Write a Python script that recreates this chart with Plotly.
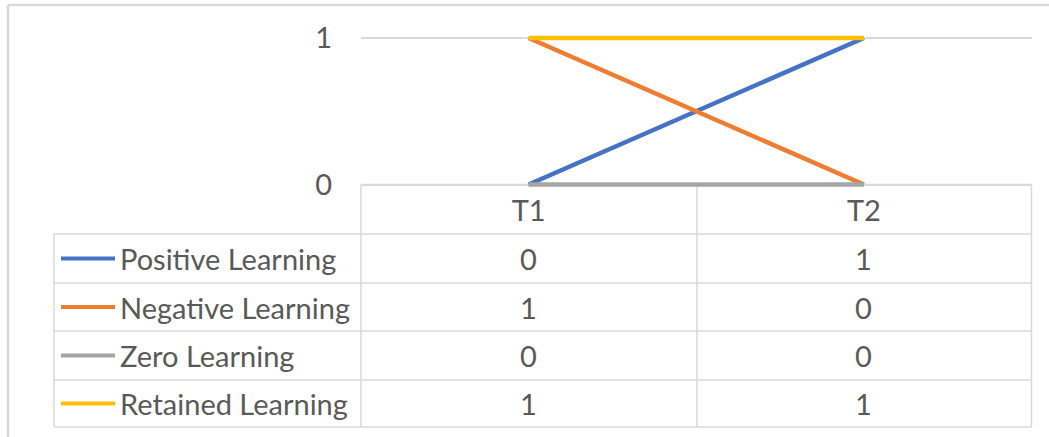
import plotly.graph_objects as go

# ---- data ----
categories = ["T1", "T2"]
series_names = ["Positive Learning", "Negative Learning", "Zero Learning", "Retained Learning"]
positive = [0, 1]
negative = [1, 0]
zero = [0, 0]
retained = [1, 1]
y_ticks = [0, 1]

series_values = [positive, negative, zero, retained]
colors = ["#4472C4", "#ED7D31", "#A5A5A5", "#FFC000"]

W, H = 1049, 437
FONT = "Lato"
TXT = "#595959"
GRID = "#D9D9D9"
FS = 29

def px(x):
    return x / W

def py(y):
    return 1 - y / H

fig = go.Figure()
for name, vals, col in zip(series_names, series_values, colors):
    fig.add_trace(go.Scatter(
        x=categories, y=vals, name=name, mode="lines",
        line=dict(color=col, width=4.5), cliponaxis=False, showlegend=False,
    ))

# table geometry (pixels)
left_x, mid_x, col2_x, right_x = 54, 361, 697, 1031.5
top_y = 184.5
y1_px = 38
row_edges = [234, 283, 331, 380, 427]

# small padding around the value range so the lines at 0 and 1 are not clipped
pad_px = 4
unit = (top_y - y1_px)
pad = pad_px / unit

shapes = []
def hline(x0, x1, y, color=GRID, width=1.5):
    shapes.append(dict(type="line", xref="paper", yref="paper",
                       x0=px(x0), x1=px(x1), y0=py(y), y1=py(y),
                       line=dict(color=color, width=width), layer="below"))

def vline(x, y0, y1, color=GRID, width=1.5):
    shapes.append(dict(type="line", xref="paper", yref="paper",
                       x0=px(x), x1=px(x), y0=py(y0), y1=py(y1),
                       line=dict(color=color, width=width), layer="below"))

# outer chart border (top & left visible)
hline(8, W, 5, width=2.5)
vline(8, 5, H, width=2.5)

# table top edge (under the value columns) and row lines
hline(mid_x, right_x, top_y)
for ye in row_edges:
    hline(left_x, right_x, ye)
vline(left_x, row_edges[0], row_edges[-1])
for xv in (mid_x, col2_x, right_x):
    vline(xv, top_y, row_edges[-1])

annotations = []
row_centers = [(row_edges[i] + row_edges[i + 1]) / 2 for i in range(len(row_edges) - 1)]
for name, vals, col, yc in zip(series_names, series_values, colors, row_centers):
    shapes.append(dict(type="line", xref="paper", yref="paper",
                       x0=px(61), x1=px(115), y0=py(yc), y1=py(yc),
                       line=dict(color=col, width=4)))
    annotations.append(dict(xref="paper", yref="paper", x=px(118), y=py(yc),
                            text=name, showarrow=False, xanchor="left", yanchor="middle",
                            font=dict(family=FONT, size=FS, color=TXT)))
    for cat, v in zip(categories, vals):
        annotations.append(dict(xref="x", yref="paper", x=cat, y=py(yc),
                                text=str(v), showarrow=False, xanchor="center", yanchor="middle",
                                font=dict(family=FONT, size=FS, color=TXT)))

fig.update_layout(
    width=W, height=H,
    margin=dict(l=0, r=0, t=0, b=0, pad=0, autoexpand=False),
    paper_bgcolor="white", plot_bgcolor="white",
    showlegend=False,
    shapes=shapes, annotations=annotations,
    xaxis=dict(domain=[px(mid_x), px(right_x)], range=[-0.5, 1.5], type="category",
               showgrid=False, zeroline=False, showline=False, ticks="", automargin=False,
               tickfont=dict(family=FONT, size=FS, color=TXT), ticklabelstandoff=2),
    yaxis=dict(domain=[py(top_y + pad_px), py(y1_px - pad_px)], range=[-pad, 1 + pad],
               tickvals=y_ticks, automargin=False,
               showgrid=True, gridcolor=GRID, gridwidth=1.5, zeroline=False, showline=False,
               ticks="", tickfont=dict(family=FONT, size=FS, color=TXT), ticklabelstandoff=28),
)

fig.write_html("out.html")
